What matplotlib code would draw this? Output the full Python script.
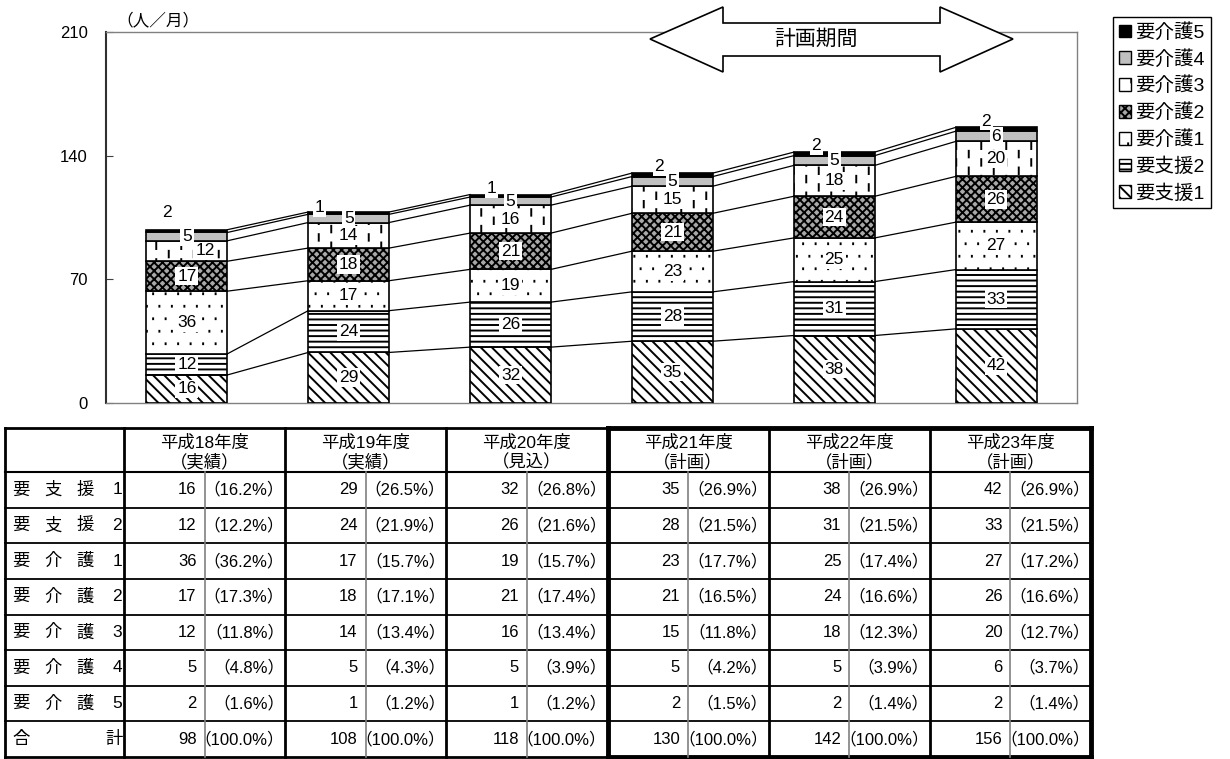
import numpy as np
import matplotlib
matplotlib.use('Agg')
import matplotlib.pyplot as plt
import matplotlib.hatch as mhatch
from matplotlib.path import Path
from matplotlib.patches import Patch, Polygon

plt.rcParams['font.family'] = ['Liberation Sans', 'Noto Sans CJK JP', 'DejaVu Sans']
plt.rcParams['hatch.linewidth'] = 1.4

# ---------------- data ----------------
years = ['平成18年度', '平成19年度', '平成20年度', '平成21年度', '平成22年度', '平成23年度']
year_notes = ['（実績）', '（実績）', '（見込）', '（計画）', '（計画）', '（計画）']
levels = ['要支援1', '要支援2', '要介護1', '要介護2', '要介護3', '要介護4', '要介護5']

shien1 = [16, 29, 32, 35, 38, 42]
shien2 = [12, 24, 26, 28, 31, 33]
kaigo1 = [36, 17, 19, 23, 25, 27]
kaigo2 = [17, 18, 21, 21, 24, 26]
kaigo3 = [12, 14, 16, 15, 18, 20]
kaigo4 = [5, 5, 5, 5, 5, 6]
kaigo5 = [2, 1, 1, 2, 2, 2]
totals = [98, 108, 118, 130, 142, 156]

pct_shien1 = [16.2, 26.5, 26.8, 26.9, 26.9, 26.9]
pct_shien2 = [12.2, 21.9, 21.6, 21.5, 21.5, 21.5]
pct_kaigo1 = [36.2, 15.7, 15.7, 17.7, 17.4, 17.2]
pct_kaigo2 = [17.3, 17.1, 17.4, 16.5, 16.6, 16.6]
pct_kaigo3 = [11.8, 13.4, 13.4, 11.8, 12.3, 12.7]
pct_kaigo4 = [4.8, 4.3, 3.9, 4.2, 3.9, 3.7]
pct_kaigo5 = [1.6, 1.2, 1.2, 1.5, 1.4, 1.4]

yticks = [0, 70, 140, 210]
unit_label = '（人／月）'
period_label = '計画期間'
total_label = '合計'

counts = [shien1, shien2, kaigo1, kaigo2, kaigo3, kaigo4, kaigo5]
pcts = [pct_shien1, pct_shien2, pct_kaigo1, pct_kaigo2, pct_kaigo3, pct_kaigo4, pct_kaigo5]

# underlying (unrounded) heights from the table's shares and totals
heights = np.array([[p / 100.0 * t for p, t in zip(pr, totals)] for pr in pcts])


# ---------------- custom hatches ----------------
class _VDash(mhatch.HatchPatternBase):
    """vertical dashes, triggered by '*'"""
    def __init__(self, hatch, density):
        n = hatch.count('*')
        self.ncol = 8 * n
        self.nrow = 6 * n
        self.num_vertices = self.ncol * self.nrow * 2

    def set_vertices_and_codes(self, vertices, codes):
        if self.num_vertices == 0:
            return
        pts = []
        L = 0.065
        for i in range(self.ncol):
            x = (i + 0.5) / self.ncol
            off = 0.5 / self.nrow if i % 2 else 0.0
            for j in range(self.nrow):
                y0 = j / self.nrow + off + 0.01
                pts.append((x, y0))
                pts.append((x, y0 + L))
        vertices[:] = np.array(pts)
        codes[0::2] = Path.MOVETO
        codes[1::2] = Path.LINETO


class _Dots(mhatch.HatchPatternBase):
    """sparse tiny staggered dots, triggered by '.'"""
    def __init__(self, hatch, density):
        n = hatch.count('.')
        self.ncol = 8 * n
        self.nrow = 8 * n
        self.num_vertices = self.ncol * self.nrow * 2

    def set_vertices_and_codes(self, vertices, codes):
        if self.num_vertices == 0:
            return
        pts = []
        L = 0.008
        for j in range(self.nrow):
            y = (j + 0.5) / self.nrow
            off = 0.5 / self.ncol if j % 2 else 0.0
            for i in range(self.ncol):
                x = (i + 0.25) / self.ncol + off
                pts.append((x, y - L / 2))
                pts.append((x, y + L / 2))
        vertices[:] = np.array(pts)
        codes[0::2] = Path.MOVETO
        codes[1::2] = Path.LINETO


mhatch._hatch_types = [t for t in mhatch._hatch_types
                       if t.__name__ not in ('Stars', 'SmallFilledCircles')] + [_VDash, _Dots]

styles = [
    dict(facecolor='white', hatch='\\\\\\'),     # 要支援1
    dict(facecolor='white', hatch='---'),        # 要支援2
    dict(facecolor='white', hatch='.'),          # 要介護1
    dict(facecolor='#a8a8a8', hatch='xxxx'),     # 要介護2
    dict(facecolor='white', hatch='*'),          # 要介護3
    dict(facecolor='#c0c0c0', hatch=None),       # 要介護4
    dict(facecolor='black', hatch=None),         # 要介護5
]

W, H = 1230, 759
fig = plt.figure(figsize=(W / 100, H / 100), dpi=100)

ax = fig.add_axes([106 / W, 1 - 403 / H, (1077 - 106) / W, (403 - 32) / H])
x = np.arange(len(years))
bw = 0.5
bottom = np.zeros(len(years))
bounds = []
for k, lev in enumerate(levels):
    st = styles[k]
    ax.bar(x, heights[k], bw, bottom=bottom, facecolor=st['facecolor'],
           hatch=st['hatch'], edgecolor='black', linewidth=1.2, zorder=3)
    bottom = bottom + heights[k]
    bounds.append(bottom.copy())

# connector lines between bars
for b in bounds:
    for i in range(len(years) - 1):
        ax.plot([x[i] + bw / 2, x[i + 1] - bw / 2], [b[i], b[i + 1]],
                color='black', lw=0.9, zorder=2)

# data labels
lfs = 12.5
bbox = dict(boxstyle='square,pad=0.1', fc='white', ec='none')
k5_dx_px = [-20, -29, -19, -13, -18, -10]
k5_dy = [9.9, 2.5, 3.5, 3.5, 3.5, 3.5]
lab_dx_px = {(4, 0): 18}
for k in range(len(levels)):
    for i in range(len(years)):
        lo = bounds[k][i] - heights[k][i]
        if k == len(levels) - 1:
            ax.annotate(str(counts[k][i]), (x[i], bounds[k][i] + k5_dy[i]),
                        xytext=(k5_dx_px[i] * 0.72, 0), textcoords='offset points',
                        ha='center', va='center', fontsize=lfs, bbox=bbox, zorder=5)
        else:
            dx = lab_dx_px.get((k, i), 0)
            ax.annotate(str(counts[k][i]), (x[i], lo + heights[k][i] / 2),
                        xytext=(dx * 0.72, 0), textcoords='offset points',
                        ha='center', va='center', fontsize=lfs, bbox=bbox, zorder=5)

ax.set_xlim(-0.5, len(years) - 0.5)
ax.set_ylim(0, 210)
ax.set_yticks(yticks)
ax.set_xticks([])
ax.tick_params(axis='y', direction='in', length=5, pad=13, labelsize=12, color='#404040')
for s in ['top', 'right', 'bottom']:
    ax.spines[s].set_color('#808080')
    ax.spines[s].set_linewidth(1.0)
ax.spines['left'].set_color('#303030')
ax.spines['left'].set_linewidth(1.5)

fig.text(116 / W, 1 - 20 / H, unit_label, fontsize=12, ha='left', va='center')

# plan-period double arrow
arr = [(650, 39), (723, 7), (723, 23), (940, 23), (940, 7), (1013, 39),
       (940, 72), (940, 56), (723, 56), (723, 72)]
fig.add_artist(Polygon([(px / W, 1 - py / H) for px, py in arr], closed=True,
                       transform=fig.transFigure, facecolor='white',
                       edgecolor='black', lw=1.2, zorder=5))
fig.text(816 / W, 1 - 39 / H, period_label, fontsize=15, ha='center', va='center', zorder=6)

# legend
handles = [Patch(facecolor=styles[k]['facecolor'], hatch=styles[k]['hatch'],
                 edgecolor='black', linewidth=1.0, label=levels[k])
           for k in range(len(levels))][::-1]
leg = fig.legend(handles=handles, loc='upper left', bbox_to_anchor=(1113 / W, 1 - 17 / H),
                 fontsize=14, frameon=True, fancybox=False, edgecolor='black',
                 framealpha=1, handlelength=0.6, handleheight=0.6, handletextpad=0.25,
                 labelspacing=0.42, borderpad=0.3, borderaxespad=0)
leg.get_frame().set_linewidth(1.0)

# ---------------- table ----------------
tax = fig.add_axes([0, 0, 1, 1])
tax.set_xlim(0, W)
tax.set_ylim(H, 0)
tax.axis('off')
tax.patch.set_alpha(0)

tx0, tx1, txr = 5, 124, 1091
cw = (txr - tx1) / 12
ty0, ty1, tyb = 428, 472, 757
rh = (tyb - ty1) / 8
ce = [tx1 + cw * i for i in range(13)]
re = [ty1 + rh * i for i in range(9)]

# horizontal lines
for yy in re[1:8]:
    tax.plot([tx0, txr], [yy, yy], color='black', lw=1.3)
tax.plot([tx0, txr], [ty1, ty1], color='black', lw=1.5)
tax.plot([tx0, ce[6]], [ty0, ty0], color='black', lw=2.0)
tax.plot([ce[6], txr], [ty0, ty0], color='black', lw=3.5, solid_capstyle='projecting')
tax.plot([tx0, ce[6]], [tyb, tyb], color='black', lw=2.0)
tax.plot([ce[6], txr], [tyb, tyb], color='black', lw=3.5, solid_capstyle='projecting')
# vertical lines
for xx in ce[1::2]:
    tax.plot([xx, xx], [ty1, tyb], color='#808080', lw=1.2)
for xx in [tx0, ce[0], ce[2], ce[4], ce[8], ce[10]]:
    tax.plot([xx, xx], [ty0, tyb], color='black', lw=2.0)
for xx in [ce[6], ce[12]]:
    tax.plot([xx, xx], [ty0, tyb], color='black', lw=3.5, solid_capstyle='projecting')

hfs = 12.5
fs = 12
for g in range(len(years)):
    cx = (ce[2 * g] + ce[2 * g + 2]) / 2
    tax.text(cx, 443, years[g], ha='center', va='center', fontsize=hfs)
    tax.text(cx, 462, year_notes[g], ha='center', va='center', fontsize=hfs)

row_labels = levels + [total_label]
row_counts = counts + [totals]
row_pcts = pcts + [[100.0] * len(years)]
for r in range(8):
    cy = (re[r] + re[r + 1]) / 2
    chars = list(row_labels[r])
    n = len(chars)
    xs = np.linspace(21, 117 if n > 2 else 114, n)
    for ch, xc in zip(chars, xs):
        tax.text(xc, cy, ch, ha='center', va='center', fontsize=hfs)
    for g in range(len(years)):
        tax.text(ce[2 * g + 1] - 8, cy, str(row_counts[r][g]), ha='right', va='center', fontsize=fs)
        tax.text(ce[2 * g + 2] - 1, cy, '（%.1f%%）' % row_pcts[r][g], ha='right', va='center', fontsize=fs)

fig.savefig('out.png', dpi=100)
